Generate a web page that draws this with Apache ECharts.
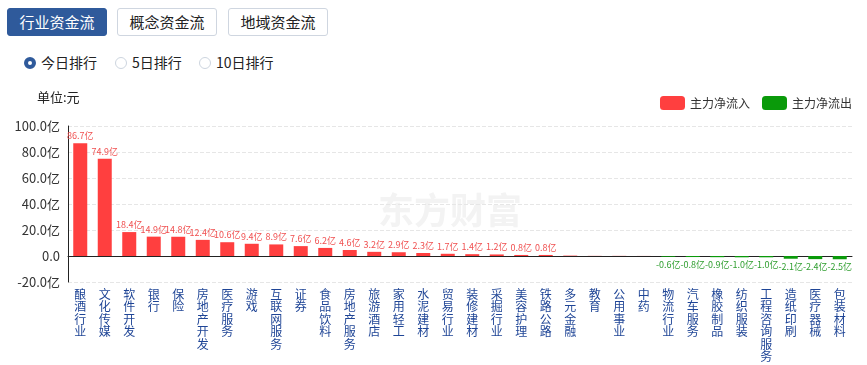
<!DOCTYPE html>
<html><head><meta charset="utf-8">
<script src="https://cdn.jsdelivr.net/npm/echarts@6/dist/echarts.min.js"></script>
<style>
html,body{margin:0;padding:0;background:#fff;font-family:"Noto Sans CJK SC","Noto Sans",sans-serif;}
.tabs{position:absolute;left:7px;top:8px;}
.tab{position:absolute;top:0;height:28px;width:100px;border:1px solid #cfd6e0;border-radius:3px;box-sizing:border-box;font-size:15px;line-height:26px;text-align:center;color:#222;background:#fff;}
.tab.on{background:#2f5a9b;border-color:#2f5a9b;color:#fff;}
.radios{position:absolute;top:52px;left:0;font-size:14px;color:#222;}
.r{position:absolute;top:0;white-space:nowrap;line-height:20px;}
.dot{display:inline-block;width:12px;height:12px;border-radius:50%;border:1px solid #cdd5df;box-sizing:border-box;vertical-align:-1px;margin-right:5px;}
.dot.on{border:4px solid #2f5a9b;}
#chart{position:absolute;left:0;top:80px;width:867px;height:285px;}
</style></head>
<body>
<div class="tabs">
<div class="tab on" style="left:0">行业资金流</div>
<div class="tab" style="left:110px">概念资金流</div>
<div class="tab" style="left:221px">地域资金流</div>
</div>
<div class="radios">
<div class="r" style="left:24px"><span class="dot on"></span>今日排行</div>
<div class="r" style="left:115px"><span class="dot"></span>5日排行</div>
<div class="r" style="left:199px"><span class="dot"></span>10日排行</div>
</div>
<div id="chart"></div>
<script>
const categories = ['酿酒行业','文化传媒','软件开发','银行','保险','房地产开发','医疗服务','游戏','互联网服务','证券','食品饮料','房地产服务','旅游酒店','家用轻工','水泥建材','贸易行业','装修建材','采掘行业','美容护理','铁路公路','多元金融','教育','公用事业','中药','物流行业','汽车服务','橡胶制品','纺织服装','工程咨询服务','造纸印刷','医疗器械','包装材料'];
const netFlow = [86.7,74.9,18.4,14.9,14.8,12.4,10.6,9.4,8.9,7.6,6.2,4.6,3.2,2.9,2.3,1.7,1.4,1.2,0.8,0.8,0.3,0.1,0.1,0.05,-0.6,-0.8,-0.9,-1.0,-1.0,-2.1,-2.4,-2.5];
const yTicks = [-20,0,20,40,60,80,100];
const legendNames = ['主力净流入','主力净流出'];

const inflow = netFlow.map(v => v >= 0 ? v : '-');
const outflow = netFlow.map(v => v < 0 ? v : '-');
const fmt = p => Math.abs(p.value) < 0.5 ? '' : p.value.toFixed(1) + '亿';
const FONT = '"Noto Sans CJK SC","Noto Sans",sans-serif';

const chart = echarts.init(document.getElementById('chart'));
chart.setOption({
  animation:false,
  textStyle:{fontFamily:FONT},
  graphic:[
    {type:'text',left:37,top:11,style:{text:'单位:元',font:'13px '+FONT,fill:'#222'}},
    {type:'text',left:378,top:112,style:{text:'东方财富',font:'bold 36px '+FONT,fill:'#f3f3f3'}}
  ],
  legend:{
    data:legendNames,right:10,top:11,itemWidth:25,itemHeight:14,itemGap:12,
    icon:'roundRect',textStyle:{fontSize:12,color:'#333',fontFamily:FONT}
  },
  grid:{left:68,right:15,top:46,bottom:83,containLabel:false,outerBoundsMode:'none'},
  xAxis:{
    type:'category',data:categories,
    axisLine:{onZero:true,lineStyle:{color:'#222',width:1}},
    axisTick:{show:false},
    axisLabel:{interval:0,color:'#1f4596',fontSize:12,lineHeight:12.5,margin:6,
      formatter:v=>v.split('').join('\n'),verticalAlign:'top'},
    position:'bottom'
  },
  yAxis:{
    type:'value',min:yTicks[0],max:yTicks[yTicks.length-1],interval:20,
    axisLine:{show:true,lineStyle:{color:'#222'}},
    axisTick:{show:false},
    splitLine:{lineStyle:{color:'#e6e6e6',type:'dashed'}},
    axisLabel:{color:'#333',fontSize:13,margin:8,formatter:v=>v===0?'0.0':v.toFixed(1)+'亿'}
  },
  series:[
    {name:legendNames[0],type:'bar',stack:'a',data:inflow,barWidth:14,
     itemStyle:{color:'#ff3f3f'},
     label:{show:true,position:'top',fontSize:9,color:'#f05050',distance:3,formatter:fmt}},
    {name:legendNames[1],type:'bar',stack:'a',data:outflow,barWidth:14,
     itemStyle:{color:'#0a9a0a'},
     label:{show:true,position:'bottom',fontSize:9,color:'#2f9e2f',distance:3,formatter:fmt}}
  ]
});
</script>
</body></html>
